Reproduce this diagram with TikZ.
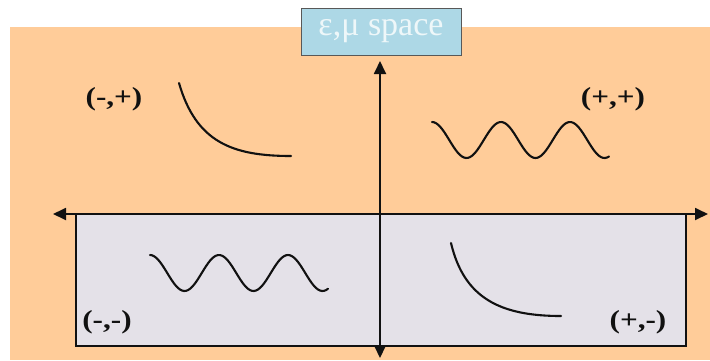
\documentclass[tikz,border=0pt]{standalone}
\usepackage{fontspec}
\setmainfont{Liberation Serif}
\usetikzlibrary{arrows.meta,positioning}
\usepackage{xcolor}
\definecolor{emPeach}{HTML}{FFCC99}
\definecolor{emLilac}{HTML}{E4E1E8}
\definecolor{emSky}{HTML}{ADD8E6}
\definecolor{emPale}{HTML}{EEF7F9}
\definecolor{emInk}{HTML}{111111}
\newcommand{\quadtxt}[1]{\scalebox{1.2}[1]{#1}}
\tikzset{
  axis/.style={-{Triangle[length=13pt,width=12pt]}, line width=1.8pt, draw=emInk},
  curve/.style={line width=2.1pt, draw=emInk, line cap=round, line join=round},
  quad/.style={font=\fontsize{26}{28}\selectfont\bfseries, text=emInk, inner sep=0pt},
  ttl/.style={draw=emInk!70, fill=emSky, line width=1pt, minimum width=160pt, minimum height=47pt, font=\fontsize{34}{36}\selectfont, text=emPale, inner sep=0pt},
}
\begin{document}
\begin{tikzpicture}[x=1pt,y=-1pt]
            \useasboundingbox (0,0) rectangle (710,360);
            \fill[emPeach] (10,27) rectangle (710,360);
            \fill[emLilac, draw=emInk, line width=1.8pt] (76,214) rectangle (686,346);
            % axes
            \coordinate (xl) at (53,214);
            \coordinate (xr) at (708,214);
            \coordinate (o) at (380,214);
            \coordinate (yt) at (380,61);
            \coordinate (yb) at (380,358);
            \draw[axis] (o) -- (xl);
            \draw[axis] (o) -- (xr);
            \draw[axis] (o) -- (yt);
            \draw[axis] (o) -- (yb);
            \node[ttl] (title) at (381,31.5) {ε,μ space};
            % quadrant labels
            \node[quad] (mp) at (114,99) {\quadtxt{(-,+)}};
            \node[quad] (pp) at (613,99) {\quadtxt{(+,+)}};
            \node[quad] (mm) at (107,322) {\quadtxt{(-,-)}};
            \node[quad] (pm) at (638,322) {\quadtxt{(+,-)}};
            % responses
            \draw[curve] (179,83) .. controls (196,142) and (232,156) .. (291,156);
            \draw[curve] (451,243) .. controls (464,298) and (500,316) .. (561,316);
            \draw[curve] plot[domain=0:177, samples=90, smooth] ({432+\x}, {140-18*cos(\x/69*360)});
            \draw[curve] plot[domain=0:178, samples=90, smooth] ({150+\x}, {273-18*cos(\x/69*360)});
        \end{tikzpicture}
\end{document}
